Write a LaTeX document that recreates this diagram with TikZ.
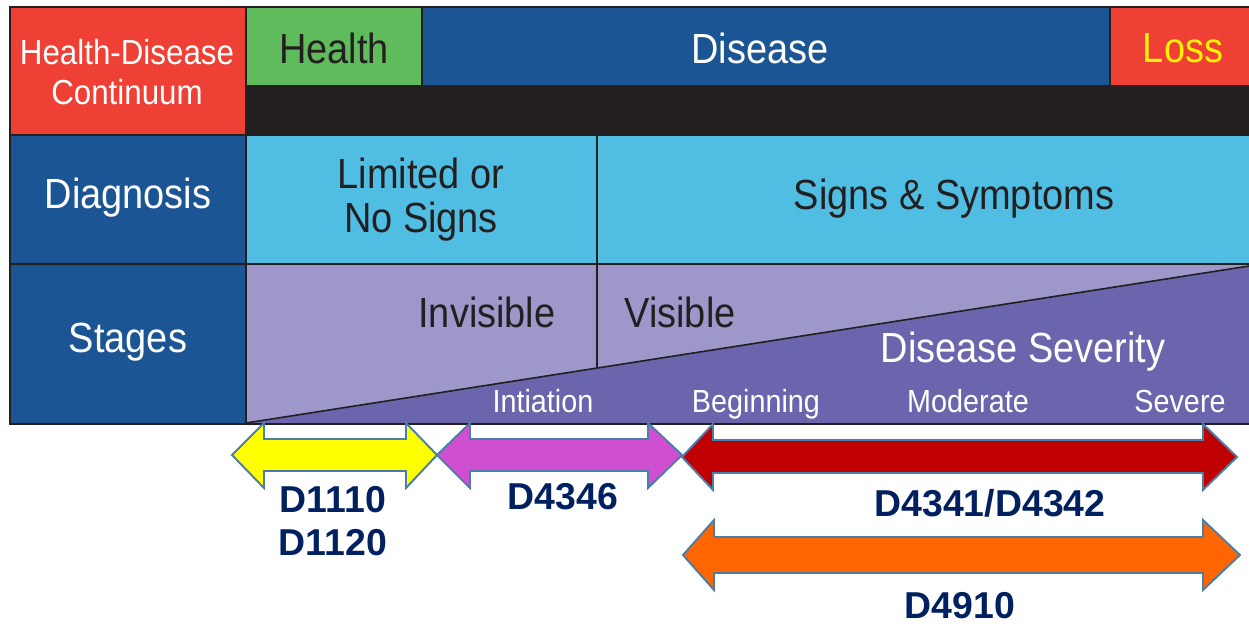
\documentclass[tikz,border=0pt]{standalone}
\usepackage{fontspec}
\setmainfont{Liberation Sans}
\newfontfamily\condensed{Liberation Sans}[FakeStretch=0.9]
\usepackage{tikz}
\usetikzlibrary{calc,positioning}
\definecolor{hdred}{RGB}{239,64,54}
\definecolor{hgreen}{RGB}{95,187,91}
\definecolor{dblue}{RGB}{27,85,148}
\definecolor{band}{RGB}{35,31,32}
\definecolor{lblue}{RGB}{80,190,227}
\definecolor{lpurple}{RGB}{158,151,201}
\definecolor{dpurple}{RGB}{106,101,172}
\definecolor{lossyellow}{RGB}{255,242,0}
\definecolor{arrowedge}{RGB}{74,126,170}
\definecolor{ayellow}{RGB}{255,255,0}
\definecolor{amagenta}{RGB}{208,79,208}
\definecolor{ared}{RGB}{192,0,0}
\definecolor{aorange}{RGB}{255,102,0}
\definecolor{codenavy}{RGB}{0,32,96}
\tikzset{
    cell/.style={draw=band, line width=1.2pt},
    lbl/.style={font=\condensed\fontsize{24}{25}\selectfont, text=band, align=center, inner sep=0pt},
    wlbl/.style={lbl, text=white},
    sev/.style={wlbl, font=\condensed\fontsize{18.2}{20}\selectfont, anchor=base},
    code/.style={font=\bfseries\fontsize{21.3}{24.5}\selectfont, text=codenavy, align=center, inner sep=0pt},
    blockarrow/.style={draw=arrowedge, line width=1.1pt, line join=miter}
}
\begin{document}
\begin{tikzpicture}[x=0.02cm, y=-0.02cm]
    \useasboundingbox (0,0) rectangle (1249,627);
    % table cells
    \filldraw[cell, fill=hdred] (10,7) rectangle (246,135);
    \filldraw[cell, fill=hgreen] (246,7) rectangle (422,86);
    \filldraw[cell, fill=dblue] (422,7) rectangle (1110,86);
    \filldraw[cell, fill=hdred] (1110,7) rectangle (1252,86);
    \filldraw[cell, fill=band] (246,86) rectangle (1252,135);
    \filldraw[cell, fill=dblue] (10,135) rectangle (246,264);
    \filldraw[cell, fill=lblue] (246,135) rectangle (597,264);
    \filldraw[cell, fill=lblue] (597,135) rectangle (1252,264);
    \filldraw[cell, fill=dblue] (10,264) rectangle (246,424);
    \filldraw[cell, fill=lpurple] (246,264) rectangle (1252,424);
    \filldraw[dpurple] (246,423) -- (1249,266) -- (1249,423) -- cycle;
    \draw[band, line width=0.9pt] (246,423) -- (1249,266);
    \draw[band, line width=1pt] (597,264) -- (597,368);
    \draw[cell] (10,424) -- (1252,424);

    \node[wlbl, font=\condensed\fontsize{19.8}{23}\selectfont] (hdc) at (127,72) {Health-Disease\\Continuum};
    \node[lbl] (health) at (334,48) {Health};
    \node[wlbl] (disease) at (760,48) {Disease};
    \node[lbl, text=lossyellow] (loss) at (1183,48) {Loss};
    \node[wlbl] (diag) at (128,198) {Diagnosis};
    \node[lbl] (limited) at (421,200) {Limited or\\No Signs};
    \node[lbl] (signs) at (954,199) {Signs \& Symptoms};
    \node[wlbl] (stages) at (128,342) {Stages};
    \node[lbl] (invisible) at (487,312) {Invisible};
    \node[lbl] (visible) at (680,312) {Visible};
    \node[wlbl] (severity) at (1023,352) {Disease Severity};
    \node[sev] (initiation) at (543,412) {Intiation};
    \node[sev] (beginning) at (756,412) {Beginning};
    \node[sev] (moderate) at (968,412) {Moderate};
    \node[sev] (severe) at (1180,412) {Severe};

    % code ranges
    \filldraw[blockarrow, fill=ayellow] (232,455) -- (264,423) -- (264,439) -- (406,439) -- (406,423)
        -- (437,455) -- (406,488) -- (406,471) -- (264,471) -- (264,488) -- cycle;
    \filldraw[blockarrow, fill=amagenta] (437,455) -- (470,423) -- (470,439) -- (648,439) -- (648,423)
        -- (682,455) -- (648,488) -- (648,471) -- (470,471) -- (470,488) -- cycle;
    \filldraw[blockarrow, fill=ared] (682,457) -- (713,424) -- (713,440) -- (1203,440) -- (1203,424)
        -- (1237,457) -- (1203,490) -- (1203,473) -- (713,473) -- (713,490) -- cycle;
    \filldraw[blockarrow, fill=aorange] (683,555) -- (714,520) -- (714,537) -- (1203,537) -- (1203,520)
        -- (1240,555) -- (1203,590) -- (1203,573) -- (714,573) -- (714,590) -- cycle;

    \node[code] (d1110) at (333,521) {D1110\\D1120};
    \node[code] (d4346) at (563,497) {D4346};
    \node[code] (d4341) at (990,503) {D4341/D4342};
    \node[code] (d4910) at (960,606) {D4910};
\end{tikzpicture}
\end{document}
